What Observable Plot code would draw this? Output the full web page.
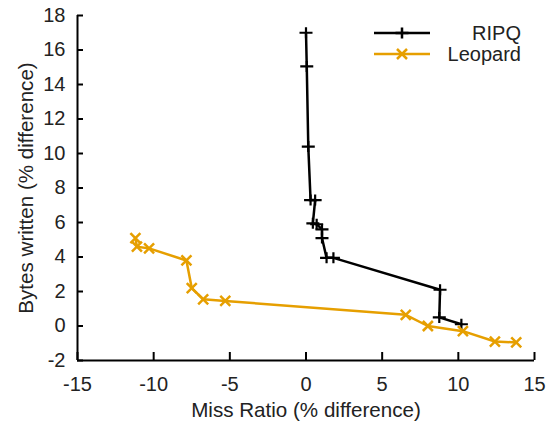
<!DOCTYPE html>
<html>
<head>
<meta charset="utf-8">
<script src="https://cdn.jsdelivr.net/npm/d3@7"></script>
<script src="https://cdn.jsdelivr.net/npm/@observablehq/plot@0.6"></script>
<style>
  html, body { margin: 0; padding: 0; background: #fff; }
  #wrap { position: relative; width: 557px; height: 427px; font-family: "Liberation Sans", Arial, sans-serif; }
</style>
</head>
<body>
<div id="wrap"></div>
<script>
// Data
const seriesNames = ["RIPQ", "Leopard"];
const seriesColors = ["#000000", "#E69F00"];

const ripqMiss  = [0.0, 0.05, 0.15, 0.30, 0.60, 0.45, 0.70, 1.05, 1.05, 1.35, 1.80, 8.80, 8.75, 10.20];
const ripqBytes = [17.0, 15.05, 10.4, 7.3, 7.3, 5.95, 5.9, 5.6, 5.1, 3.95, 3.95, 2.1, 0.5, 0.1];

const leopardMiss  = [-11.2, -11.1, -10.3, -7.85, -7.5, -6.75, -5.3, 6.55, 8.0, 10.3, 12.4, 13.8];
const leopardBytes = [5.1, 4.6, 4.5, 3.8, 2.2, 1.55, 1.45, 0.65, 0.0, -0.3, -0.9, -0.95];

const xTicks = [-15, -10, -5, 0, 5, 10, 15];
const yTicks = [-2, 0, 2, 4, 6, 8, 10, 12, 14, 16, 18];
const xLabel = "Miss Ratio (% difference)";
const yLabel = "Bytes written (% difference)";

const ripq = ripqMiss.map((m, i) => ({series: "RIPQ", miss: m, bytes: ripqBytes[i]}));
const leopard = leopardMiss.map((m, i) => ({series: "Leopard", miss: m, bytes: leopardBytes[i]}));

const plusSym = {draw(ctx) { ctx.moveTo(-6.5, 0); ctx.lineTo(6.5, 0); ctx.moveTo(0, -5.5); ctx.lineTo(0, 5.5); }};
const timesSym = {draw(ctx) { ctx.moveTo(-5, -5); ctx.lineTo(5, 5); ctx.moveTo(-5, 5); ctx.lineTo(5, -5); }};
const fmt = d => String(d);

const chart = Plot.plot({
  width: 557,
  height: 427,
  marginLeft: 77,
  marginRight: 23,
  marginTop: 15,
  marginBottom: 67,
  style: {fontFamily: "'Liberation Sans', Arial, sans-serif", fontSize: "20px", color: "#000", background: "#fff"},
  x: {domain: [-15, 15]},
  y: {domain: [-2, 18]},
  marks: [
    Plot.ruleX([-15], {stroke: "#000", strokeWidth: 2}),
    Plot.ruleY([-2], {stroke: "#000", strokeWidth: 2}),
    Plot.axisX({ticks: xTicks, tickFormat: fmt, tickSize: -8, tickPadding: 24, strokeWidth: 2, label: null, fill: "#222", fontSize: 20}),
    Plot.axisY({ticks: yTicks, tickFormat: fmt, tickSize: -6, tickPadding: 18, strokeWidth: 2, label: null, fill: "#222", fontSize: 20}),
    Plot.text([xLabel], {frameAnchor: "bottom", lineAnchor: "middle", textAnchor: "middle", dy: 50, fontSize: 20.6, fill: "#222"}),
    Plot.text([yLabel], {frameAnchor: "left", rotate: -90, lineAnchor: "middle", textAnchor: "middle", dx: -51, fontSize: 20.6, fill: "#222"}),
    Plot.line(ripq, {x: "miss", y: "bytes", stroke: seriesColors[0], strokeWidth: 2.5}),
    Plot.dot(ripq, {x: "miss", y: "bytes", symbol: plusSym, stroke: seriesColors[0], fill: "none", strokeWidth: 2.2}),
    Plot.line(leopard, {x: "miss", y: "bytes", stroke: seriesColors[1], strokeWidth: 2.5}),
    Plot.dot(leopard, {x: "miss", y: "bytes", symbol: timesSym, stroke: seriesColors[1], fill: "none", strokeWidth: 2.5})
  ]
});
document.getElementById("wrap").appendChild(chart);

// Legend (gnuplot-style key, inside top-right)
const ns = "http://www.w3.org/2000/svg";
const lg = document.createElementNS(ns, "svg");
lg.setAttribute("width", "160");
lg.setAttribute("height", "45");
lg.style.position = "absolute";
lg.style.left = "370px";
lg.style.top = "22px";
const rowsY = [11, 32];
seriesNames.forEach((name, i) => {
  const y = rowsY[i];
  const line = document.createElementNS(ns, "line");
  line.setAttribute("x1", 4); line.setAttribute("x2", 60);
  line.setAttribute("y1", y); line.setAttribute("y2", y);
  line.setAttribute("stroke", seriesColors[i]); line.setAttribute("stroke-width", 2.5);
  lg.appendChild(line);
  const m = document.createElementNS(ns, "path");
  m.setAttribute("d", i === 0 ? "M-6.5,0L6.5,0M0,-5.5L0,5.5" : "M-5,-5L5,5M-5,5L5,-5");
  m.setAttribute("transform", `translate(32,${y})`);
  m.setAttribute("stroke", seriesColors[i]); m.setAttribute("stroke-width", 2.5); m.setAttribute("fill", "none");
  lg.appendChild(m);
  const t = document.createElementNS(ns, "text");
  t.setAttribute("x", 151); t.setAttribute("y", y);
  t.setAttribute("text-anchor", "end"); t.setAttribute("dominant-baseline", "central");
  t.setAttribute("font-family", "'Liberation Sans', Arial, sans-serif"); t.setAttribute("font-size", "20");
  t.setAttribute("fill", "#222");
  t.textContent = name;
  lg.appendChild(t);
});
document.getElementById("wrap").appendChild(lg);
</script>
</body>
</html>
